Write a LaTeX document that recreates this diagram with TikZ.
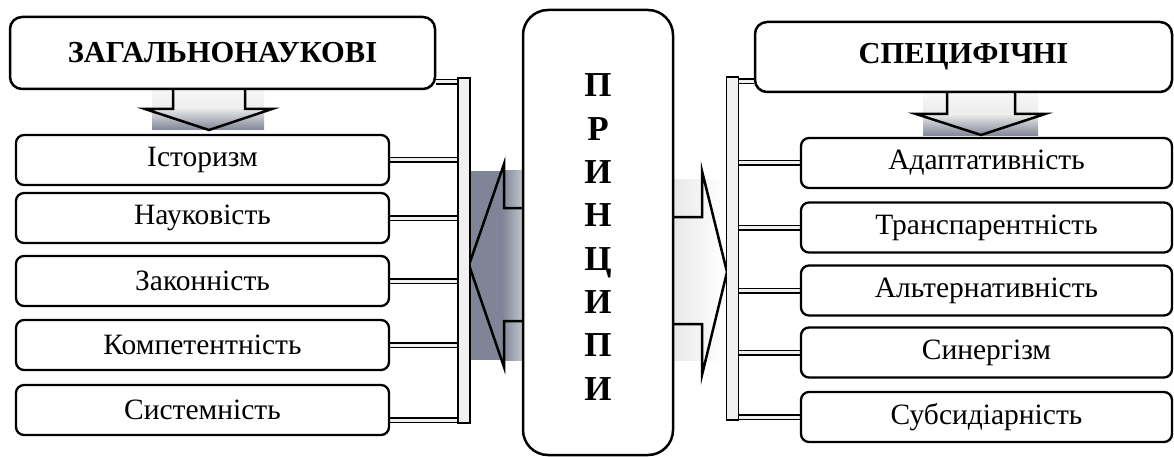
\documentclass[tikz,border=0pt]{standalone}
\usepackage{fontspec}
\setmainfont{Liberation Serif}
\usetikzlibrary{calc,backgrounds}
\definecolor{arrgray}{RGB}{127,133,150}
\definecolor{arrlight}{RGB}{197,200,207}
\definecolor{barfill}{RGB}{240,240,240}
\begin{document}
\begin{tikzpicture}[x=1pt, y=-1pt,
  head/.style={draw, line width=2.5pt, rounded corners=12pt, fill=white, font=\bfseries\fontsize{30.5}{34}\selectfont},
  item/.style={draw, line width=2.3pt, rounded corners=8pt, fill=white, minimum height=50pt, font=\fontsize{29.5}{33}\selectfont},
  bar/.style={draw, line width=1.5pt, fill=barfill, minimum width=12pt, inner sep=0pt},
  conn/.style={line width=1.5pt, double=barfill, double distance=3pt},
  outline/.style={line width=2.5pt, miter limit=20}]
\useasboundingbox (0,0) rectangle (1174,457);

% headers
\node (lhead) at (222.5,53) [head, minimum width=425pt, minimum height=72pt] {ЗАГАЛЬНОНАУКОВІ};
\node (rhead) at (963.5,57) [head, minimum width=417pt, minimum height=70pt] {СПЕЦИФІЧНІ};

% centre
\node (prin) at (598,232.5) [draw, line width=2.5pt, rounded corners=25pt, fill=white, minimum width=150pt, minimum height=445pt] {};
\node (prinlbl) at (598,237) [align=center, font=\bfseries\fontsize{35}{43.3}\selectfont] {П\\Р\\И\\Н\\Ц\\И\\П\\И};

% left items
\node (ist) at (202.5,160) [item, minimum width=373pt] {Історизм};
\node (nauk) at (202.5,218) [item, minimum width=373pt] {Науковість};
\node (zak) at (202.5,281) [item, minimum width=373pt] {Законність};
\node (komp) at (202.5,345) [item, minimum width=373pt] {Компетентність};
\node (sys) at (202.5,410) [item, minimum width=373pt] {Системність};

% right items
\node (adap) at (986.5,163) [item, minimum width=371pt] {Адаптативність};
\node (tran) at (986.5,227.5) [item, minimum width=371pt] {Транспарентність};
\node (alt) at (986.5,290.5) [item, minimum width=371pt] {Альтернативність};
\node (syn) at (986.5,352.5) [item, minimum width=371pt] {Синергізм};
\node (subs) at (986.5,417) [item, minimum width=371pt] {Субсидіарність};

% bars
\node (lbar) at (464,250.5) [bar, minimum height=345pt] {};
\node (rbar) at (732.5,248.5) [bar, minimum height=343pt] {};

\begin{scope}[on background layer]
% connectors
\coordinate (lj) at ($(lhead.south east)+(0,-8.5)$);
\coordinate (rj) at ($(rhead.south west)+(0,-12)$);
\draw[conn] (lj) -- (lj -| lbar.west);
\draw[conn] (rj) -- (rj -| rbar.east);
\foreach \n in {ist,nauk,zak,komp}
  \draw[conn] (\n.east) -- (\n.east -| lbar.west);
\draw[conn] ($(sys.east)+(0,10)$) -- ($(sys.east -| lbar.east)+(0,10)$);
\foreach \n in {adap,tran,alt,syn,subs}
  \draw[conn] (\n.west) -- (\n.west -| rbar.east);

% down arrows
\shade[top color=gray!5, bottom color=gray!15] (152,89) rectangle (264,108);
\shade[top color=gray!15, bottom color=arrgray] (152,108) rectangle (264,130);
\draw[outline] (173,89) -- (173,109) -- (145,109) -- (209,130) -- (272,109) -- (245,109) -- (245,89);
\shade[top color=gray!5, bottom color=gray!15] (923,92) rectangle (1038,114);
\shade[top color=gray!15, bottom color=arrgray] (923,114) rectangle (1038,136);
\draw[outline] (947,92) -- (947,114) -- (916,114) -- (981,135) -- (1045,114) -- (1015,114) -- (1015,92);

% side arrows
\fill[arrgray] (470,171) rectangle (502,360);
\shade[left color=arrgray, right color=arrlight] (502,171) rectangle (524,360);
\draw[outline] (524,208) -- (504,208) -- (504,164) -- (469,265) -- (504,367) -- (504,321) -- (524,321);
\shade[left color=gray!18, right color=white] (672,180) rectangle (725,360);
\draw[outline] (672,217) -- (702,217) -- (702,171) -- (727,272) -- (702,375) -- (702,324) -- (672,324);
\end{scope}
\end{tikzpicture}
\end{document}
